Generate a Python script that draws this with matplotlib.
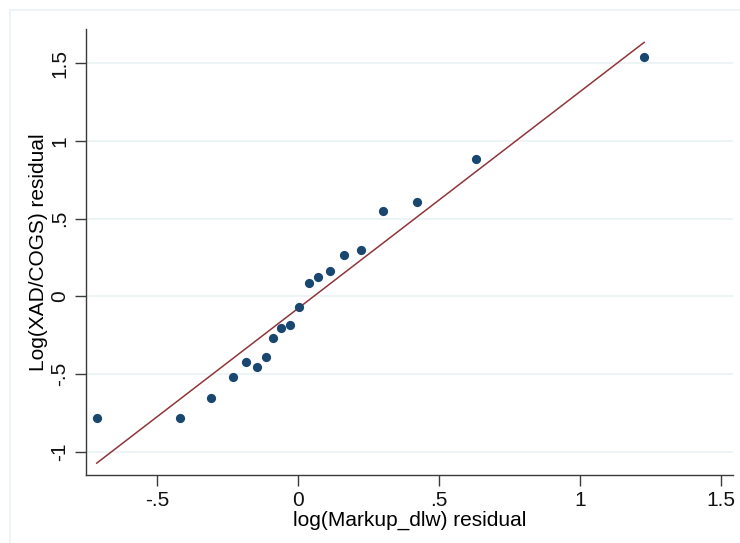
import numpy as np
import matplotlib.pyplot as plt
from matplotlib.lines import Line2D

plt.rcParams['font.family'] = ['Liberation Sans', 'DejaVu Sans']

# residuals
markup_resid = [-0.713, -0.419, -0.307, -0.231, -0.183, -0.145, -0.112, -0.087,
                -0.059, -0.029, 0.005, 0.038, 0.073, 0.114, 0.164, 0.224,
                0.301, 0.423, 0.631, 1.228]
xad_resid = [-0.785, -0.785, -0.652, -0.517, -0.423, -0.452, -0.388, -0.269,
             -0.202, -0.187, -0.071, 0.088, 0.123, 0.160, 0.266, 0.298,
             0.550, 0.606, 0.885, 1.540]

# fitted line
fit_slope = 1.395
fit_intercept = -0.079

xticks = [-0.5, 0, 0.5, 1, 1.5]
xticklabels = ['-.5', '0', '.5', '1', '1.5']
yticks = [-1, -0.5, 0, 0.5, 1, 1.5]
yticklabels = ['-1', '-.5', '0', '.5', '1', '1.5']

NAVY = '#1a476f'
MAROON = '#90353b'
GRID = '#eaf2f3'
AXIS = '#3a3a3a'

fig = plt.figure(figsize=(7.4, 5.43), dpi=100)
fig.patch.set_facecolor('white')
# light outer frame (left and top edges visible)
fig.lines.append(Line2D([10/740, 10/740], [0, 1 - 10/543], transform=fig.transFigure,
                        color=GRID, linewidth=1.2))
fig.lines.append(Line2D([10/740, 1], [1 - 10/543, 1 - 10/543], transform=fig.transFigure,
                        color=GRID, linewidth=1.2))

ax = fig.add_axes([86/740, 1 - 474.7/543, (733 - 86)/740, (474.7 - 29)/543])

ax.scatter(markup_resid, xad_resid, s=44, color=NAVY, zorder=3, linewidths=0)
xs = np.array([min(markup_resid), max(markup_resid)])
ax.plot(xs, fit_intercept + fit_slope * xs, color=MAROON, linewidth=1.1, zorder=2)

ax.set_xlim(-0.751, 1.543)
ax.set_ylim(-1.148, 1.72)
ax.set_xticks(xticks)
ax.set_xticklabels(xticklabels)
ax.set_yticks(yticks)
ax.set_yticklabels(yticklabels, rotation=90, va='center')

ax.grid(axis='y', color=GRID, linewidth=1.2)
ax.set_axisbelow(True)
for side in ['top', 'right']:
    ax.spines[side].set_visible(False)
for side in ['left', 'bottom']:
    ax.spines[side].set_color(AXIS)
    ax.spines[side].set_linewidth(1.0)
ax.tick_params(direction='out', length=8, width=1.0, color=AXIS,
               labelsize=15, labelcolor='#111111', pad=4)

ax.set_xlabel('log(Markup_dlw) residual', fontsize=15, labelpad=0)
ax.set_ylabel('Log(XAD/COGS) residual', fontsize=15, labelpad=2)

plt.savefig('out.png', dpi=100, facecolor=fig.get_facecolor())
